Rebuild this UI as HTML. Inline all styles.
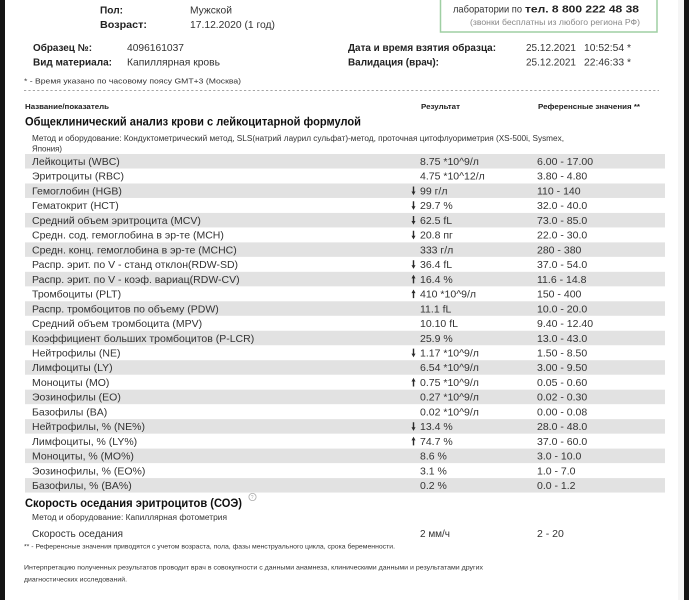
<!DOCTYPE html>
<html><head><meta charset="utf-8"><style>
html,body{margin:0;padding:0;background:#fff;}
svg{display:block;filter:blur(0.3px);}
text{font-family:"Liberation Sans",Arial,sans-serif;fill:#333;}
.b{font-weight:bold;fill:#222;}
.r{font-size:10.5px;}
</style></head><body>
<svg width="689" height="600" viewBox="0 0 689 600" xmlns="http://www.w3.org/2000/svg">
<rect width="689" height="600" fill="#fff"/>
<rect x="678" y="0" width="6" height="600" fill="#f5f5f5"/>

<!-- top patient info -->
<text class="b" x="100" y="13.5" font-size="10" textLength="23" lengthAdjust="spacingAndGlyphs">Пол:</text>
<text x="190" y="13.5" font-size="10.5" textLength="42" lengthAdjust="spacingAndGlyphs">Мужской</text>
<text class="b" x="100" y="28" font-size="10" textLength="47" lengthAdjust="spacingAndGlyphs">Возраст:</text>
<text x="190" y="28" font-size="10.5" textLength="85" lengthAdjust="spacingAndGlyphs">17.12.2020 (1 год)</text>

<!-- green box -->
<rect x="440.5" y="-20" width="216.5" height="52" fill="none" stroke="#9fcfa3" stroke-width="1.5"/>
<text x="453" y="12.5" font-size="10.5" textLength="69" lengthAdjust="spacingAndGlyphs">лаборатории по</text>
<text class="b" x="525" y="12.5" font-size="10.5" textLength="114" lengthAdjust="spacingAndGlyphs">тел. 8 800 222 48 38</text>
<text x="470" y="25" font-size="8.5" style="fill:#888" textLength="170" lengthAdjust="spacingAndGlyphs">(звонки бесплатны из любого региона РФ)</text>

<!-- sample info -->
<text class="b" x="33" y="51" font-size="10" textLength="59" lengthAdjust="spacingAndGlyphs">Образец №:</text>
<text x="127" y="51" font-size="10.5" textLength="57" lengthAdjust="spacingAndGlyphs">4096161037</text>
<text class="b" x="33" y="65.5" font-size="10" textLength="79" lengthAdjust="spacingAndGlyphs">Вид материала:</text>
<text x="127" y="65.5" font-size="10.5" textLength="93" lengthAdjust="spacingAndGlyphs">Капиллярная кровь</text>
<text class="b" x="348" y="51" font-size="10" textLength="148" lengthAdjust="spacingAndGlyphs">Дата и время взятия образца:</text>
<text class="b" x="348" y="65.5" font-size="10" textLength="91" lengthAdjust="spacingAndGlyphs">Валидация (врач):</text>
<text x="526" y="51" font-size="10.5" textLength="50" lengthAdjust="spacingAndGlyphs">25.12.2021</text>
<text x="584" y="51" font-size="10.5" textLength="47" lengthAdjust="spacingAndGlyphs">10:52:54 *</text>
<text x="526" y="65.5" font-size="10.5" textLength="50" lengthAdjust="spacingAndGlyphs">25.12.2021</text>
<text x="584" y="65.5" font-size="10.5" textLength="47" lengthAdjust="spacingAndGlyphs">22:46:33 *</text>

<text x="24" y="83.5" font-size="7.5" textLength="217" lengthAdjust="spacingAndGlyphs">* - Время указано по часовому поясу GMT+3 (Москва)</text>
<line x1="24" y1="90.5" x2="659" y2="90.5" stroke="#888" stroke-width="0.8" stroke-dasharray="2.2,2.2"/>

<text class="b" x="25" y="109" font-size="7.5" textLength="84" lengthAdjust="spacingAndGlyphs">Название/показатель</text>
<text class="b" x="421" y="109" font-size="7.5" textLength="39" lengthAdjust="spacingAndGlyphs">Результат</text>
<text class="b" x="538" y="109" font-size="7.5" textLength="102" lengthAdjust="spacingAndGlyphs">Референсные значения **</text>

<text class="b" x="25" y="125.5" font-size="11.5" textLength="336" lengthAdjust="spacingAndGlyphs" style="fill:#111">Общеклинический анализ крови с лейкоцитарной формулой</text>
<text x="32" y="141" font-size="8" textLength="532" lengthAdjust="spacingAndGlyphs">Метод и оборудование:  Кондуктометрический метод, SLS(натрий лаурил сульфат)-метод, проточная цитофлуориметрия (XS-500i, Sysmex,</text>
<text x="32" y="151.5" font-size="8" textLength="30" lengthAdjust="spacingAndGlyphs">Япония)</text>

<!-- shaded bands -->
<g fill="#e2e2e2">
<rect x="25" y="154" width="640" height="14.5"/>
<rect x="25" y="183.46" width="640" height="14.5"/>
<rect x="25" y="212.92" width="640" height="14.5"/>
<rect x="25" y="242.38" width="640" height="14.5"/>
<rect x="25" y="271.84" width="640" height="14.5"/>
<rect x="25" y="301.3" width="640" height="14.5"/>
<rect x="25" y="330.76" width="640" height="14.5"/>
<rect x="25" y="360.22" width="640" height="14.5"/>
<rect x="25" y="389.68" width="640" height="14.5"/>
<rect x="25" y="419.14" width="640" height="14.5"/>
<rect x="25" y="448.6" width="640" height="14.5"/>
<rect x="25" y="478.06" width="640" height="14.5"/>
</g>

<!-- rows -->
<g class="r" font-size="10.5">
<text x="32" y="165">Лейкоциты (WBC)</text><text x="420" y="165">8.75 *10^9/л</text><text x="537" y="165">6.00 - 17.00</text>
<text x="32" y="179.73">Эритроциты (RBC)</text><text x="420" y="179.73">4.75 *10^12/л</text><text x="537" y="179.73">3.80 - 4.80</text>
<text x="32" y="194.46">Гемоглобин (HGB)</text><text x="420" y="194.46">99 г/л</text><text x="537" y="194.46">110 - 140</text>
<text x="32" y="209.19">Гематокрит (HCT)</text><text x="420" y="209.19">29.7 %</text><text x="537" y="209.19">32.0 - 40.0</text>
<text x="32" y="223.92">Средний объем эритроцита (MCV)</text><text x="420" y="223.92">62.5 fL</text><text x="537" y="223.92">73.0 - 85.0</text>
<text x="32" y="238.65">Средн. сод. гемоглобина в эр-те (MCH)</text><text x="420" y="238.65">20.8 пг</text><text x="537" y="238.65">22.0 - 30.0</text>
<text x="32" y="253.38">Средн. конц. гемоглобина в эр-те (MCHC)</text><text x="420" y="253.38">333 г/л</text><text x="537" y="253.38">280 - 380</text>
<text x="32" y="268.11">Распр. эрит. по V - станд отклон(RDW-SD)</text><text x="420" y="268.11">36.4 fL</text><text x="537" y="268.11">37.0 - 54.0</text>
<text x="32" y="282.84">Распр. эрит. по V - коэф. вариац(RDW-CV)</text><text x="420" y="282.84">16.4 %</text><text x="537" y="282.84">11.6 - 14.8</text>
<text x="32" y="297.57">Тромбоциты (PLT)</text><text x="420" y="297.57">410 *10^9/л</text><text x="537" y="297.57">150 - 400</text>
<text x="32" y="312.3">Распр. тромбоцитов по объему (PDW)</text><text x="420" y="312.3">11.1 fL</text><text x="537" y="312.3">10.0 - 20.0</text>
<text x="32" y="327.03">Средний объем тромбоцита (MPV)</text><text x="420" y="327.03">10.10 fL</text><text x="537" y="327.03">9.40 - 12.40</text>
<text x="32" y="341.76">Коэффициент больших тромбоцитов (P-LCR)</text><text x="420" y="341.76">25.9 %</text><text x="537" y="341.76">13.0 - 43.0</text>
<text x="32" y="356.49">Нейтрофилы (NE)</text><text x="420" y="356.49">1.17 *10^9/л</text><text x="537" y="356.49">1.50 - 8.50</text>
<text x="32" y="371.22">Лимфоциты (LY)</text><text x="420" y="371.22">6.54 *10^9/л</text><text x="537" y="371.22">3.00 - 9.50</text>
<text x="32" y="385.95">Моноциты (MO)</text><text x="420" y="385.95">0.75 *10^9/л</text><text x="537" y="385.95">0.05 - 0.60</text>
<text x="32" y="400.68">Эозинофилы (EO)</text><text x="420" y="400.68">0.27 *10^9/л</text><text x="537" y="400.68">0.02 - 0.30</text>
<text x="32" y="415.41">Базофилы (BA)</text><text x="420" y="415.41">0.02 *10^9/л</text><text x="537" y="415.41">0.00 - 0.08</text>
<text x="32" y="430.14">Нейтрофилы, % (NE%)</text><text x="420" y="430.14">13.4 %</text><text x="537" y="430.14">28.0 - 48.0</text>
<text x="32" y="444.87">Лимфоциты, % (LY%)</text><text x="420" y="444.87">74.7 %</text><text x="537" y="444.87">37.0 - 60.0</text>
<text x="32" y="459.6">Моноциты, % (MO%)</text><text x="420" y="459.6">8.6 %</text><text x="537" y="459.6">3.0 - 10.0</text>
<text x="32" y="474.33">Эозинофилы, % (EO%)</text><text x="420" y="474.33">3.1 %</text><text x="537" y="474.33">1.0 - 7.0</text>
<text x="32" y="489.06">Базофилы, % (BA%)</text><text x="420" y="489.06">0.2 %</text><text x="537" y="489.06">0.0 - 1.2</text>
</g>

<!-- arrows -->
<defs>
<path id="dn" d="M-0.7,-4.2 L0.7,-4.2 L0.7,0.8 L2,0.8 L0,4.4 L-2,0.8 L-0.7,0.8 Z" fill="#2a2a2a"/>
<path id="up" d="M-0.7,4.2 L0.7,4.2 L0.7,-0.8 L2,-0.8 L0,-4.4 L-2,-0.8 L-0.7,-0.8 Z" fill="#2a2a2a"/>
</defs>
<use href="#dn" x="413.5" y="190.76"/>
<use href="#dn" x="413.5" y="205.49"/>
<use href="#dn" x="413.5" y="220.22"/>
<use href="#dn" x="413.5" y="234.95"/>
<use href="#dn" x="413.5" y="264.41"/>
<use href="#up" x="413.5" y="279.14"/>
<use href="#up" x="413.5" y="293.87"/>
<use href="#dn" x="413.5" y="352.79"/>
<use href="#up" x="413.5" y="382.25"/>
<use href="#dn" x="413.5" y="426.44"/>
<use href="#up" x="413.5" y="441.17"/>

<!-- ESR section -->
<text class="b" x="25" y="507" font-size="11.5" textLength="217" lengthAdjust="spacingAndGlyphs" style="fill:#111">Скорость оседания эритроцитов (СОЭ)</text>
<circle cx="252.5" cy="497" r="3.6" fill="none" stroke="#aaa" stroke-width="0.8"/>
<text x="250.8" y="499" font-size="5" style="fill:#aaa">?</text>
<text x="32" y="520" font-size="8" textLength="195" lengthAdjust="spacingAndGlyphs">Метод и оборудование:  Капиллярная фотометрия</text>
<text x="32" y="537" font-size="10.5" textLength="91" lengthAdjust="spacingAndGlyphs">Скорость оседания</text>
<text x="420" y="537" font-size="10.5" textLength="30" lengthAdjust="spacingAndGlyphs">2 мм/ч</text>
<text x="537" y="537" font-size="10.5">2 - 20</text>
<text x="24" y="548.5" font-size="6.5" textLength="371" lengthAdjust="spacingAndGlyphs">** - Референсные значения приводятся с учетом возраста, пола, фазы менструального цикла, срока беременности.</text>
<text x="24" y="569.5" font-size="6.5" textLength="459" lengthAdjust="spacingAndGlyphs">Интерпретацию полученных результатов проводит врач в совокупности с данными анамнеза, клиническими данными и результатами других</text>
<text x="24" y="581.5" font-size="6.5" textLength="103" lengthAdjust="spacingAndGlyphs">диагностических исследований.</text>

<!-- black photo borders -->
<rect x="0" y="0" width="5" height="600" fill="#141414"/>
<rect x="684" y="0" width="5" height="600" fill="#141414"/>
</svg>
</body></html>
